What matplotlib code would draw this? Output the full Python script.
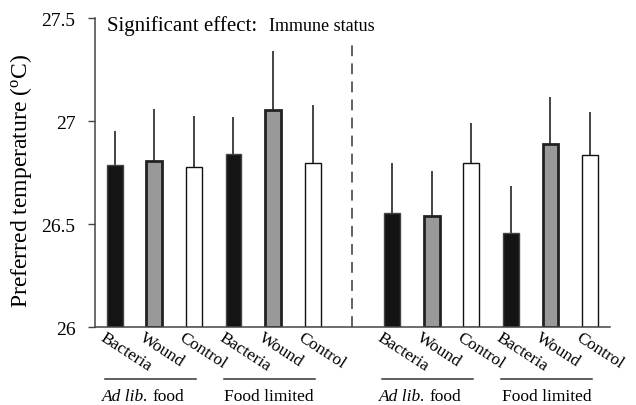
import matplotlib.pyplot as plt

plt.rcParams["font.family"] = ["Liberation Serif", "DejaVu Serif"]
plt.rcParams["mathtext.fontset"] = "custom"
plt.rcParams["mathtext.rm"] = "Liberation Serif"
plt.rcParams["mathtext.it"] = "Liberation Serif:italic"

# bar data
positions = [0, 1, 2, 3, 4, 5, 7, 8, 9, 10, 11, 12]
labels = ["Bacteria", "Wound", "Control"] * 4
means = [26.788, 26.804, 26.778, 26.840, 27.053, 26.795,
         26.553, 26.540, 26.798, 26.458, 26.887, 26.835]
err_tops = [26.953, 27.060, 27.023, 27.018, 27.338, 27.079,
            26.796, 26.757, 26.992, 26.683, 27.115, 27.045]
groups = ["Ad lib.", "Food limited", "Ad lib.", "Food limited"]
group_spans = [(0, 2), (3, 5), (7, 9), (10, 12)]

face = {"Bacteria": "#141414", "Wound": "#999999", "Control": "white"}
edge = {"Bacteria": "#444444", "Wound": "#222222", "Control": "#111111"}
lw = {"Bacteria": 1.0, "Wound": 2.0, "Control": 1.0}

fig = plt.figure(figsize=(6.36, 4.06), dpi=100)
ax = fig.add_axes([0.149, 0.192, 0.81, 0.761])

for x, lab, m, e in zip(positions, labels, means, err_tops):
    ax.plot([x, x], [m, e], color="#444444", lw=1.4, zorder=1, solid_capstyle="butt")
    ax.bar(x, m - 26, bottom=26, width=0.4, color=face[lab], edgecolor=edge[lab],
           linewidth=lw[lab], zorder=2)

# separator between the two halves
ax.plot([6, 6], [26, 27.39], color="#555555", lw=1.3, dashes=(6, 4))

ax.set_xlim(-0.5, 12.5)
ax.set_ylim(26, 27.5)
ax.set_yticks([26, 26.5, 27, 27.5])
ax.set_yticklabels(["26", "26.5", "27", "27.5"], fontsize=14)
ax.set_xticks([])
ax.tick_params(axis="y", direction="out", length=5, width=1, color="#444444", pad=9)
for s in ["top", "right"]:
    ax.spines[s].set_visible(False)
for s in ["left", "bottom"]:
    ax.spines[s].set_color("#444444")
    ax.spines[s].set_linewidth(1.1)

fig.text(21 / 636, 0.555, "Preferred temperature ($^{\\mathrm{o}}$C)", fontsize=17,
         rotation=90, ha="center", va="center")

for x, lab in zip(positions, labels):
    ax.text(x - 0.22, 25.99, lab, rotation=-33, rotation_mode="anchor",
            ha="left", va="top", fontsize=12.5)

for (a, b), g in zip(group_spans, groups):
    ax.plot([a - 0.25, b + 0.05], [25.75, 25.75], color="#333333", lw=1.1, clip_on=False)
    cx = (a + b) / 2 - 0.1
    if g == "Ad lib.":
        ax.text(cx - 0.05, 25.665, "Ad lib.", ha="right", va="center",
                fontsize=12.5, style="italic")
        ax.text(cx + 0.05, 25.665, "food", ha="left", va="center", fontsize=12.5)
    else:
        ax.text(cx, 25.665, g, ha="center", va="center", fontsize=12.5)

ax.text(-0.18, 27.44, "Significant effect:", fontsize=15, va="baseline")
ax.text(3.9, 27.44, "Immune status", fontsize=13, va="baseline")

fig.savefig("out.png", dpi=100)
